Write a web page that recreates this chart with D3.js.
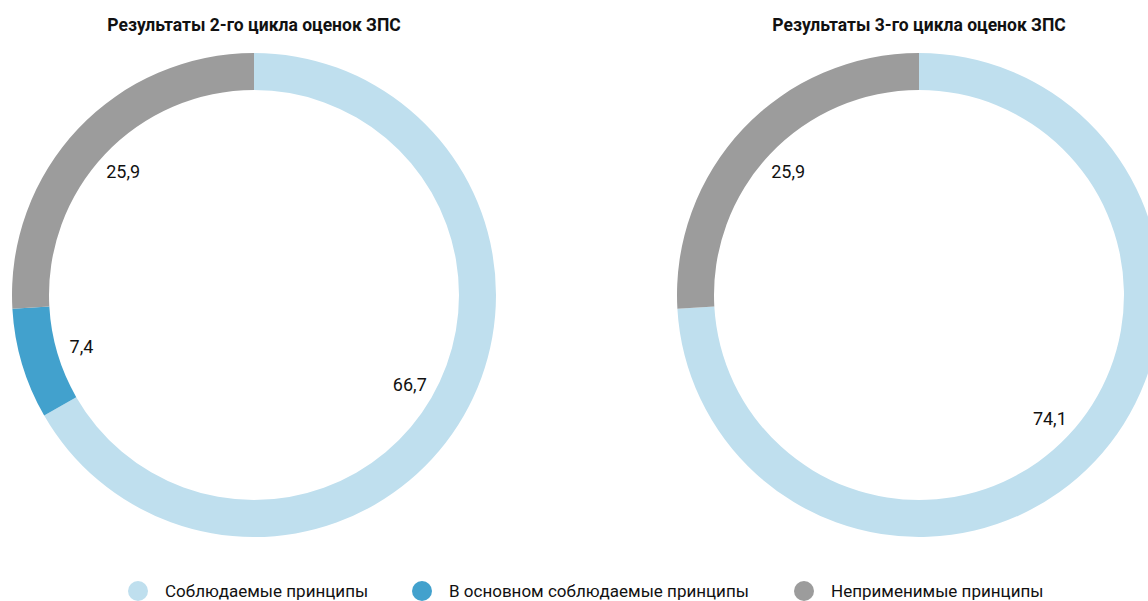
<!DOCTYPE html>
<html>
<head>
<meta charset="utf-8">
<script src="https://cdn.jsdelivr.net/npm/d3@7"></script>
<style>
  body { margin: 0; background: #fff; }
  text { font-family: Roboto, "Noto Sans", sans-serif; }
</style>
</head>
<body>
<script>
var width = 1148;
var height = 601;

// data
var categories = ["Соблюдаемые принципы", "В основном соблюдаемые принципы", "Неприменимые принципы"];
var colors = ["#bfdfee", "#42a1cd", "#9c9c9c"];
var titles = ["Результаты 2-го цикла оценок ЗПС", "Результаты 3-го цикла оценок ЗПС"];
var cycle2 = [66.7, 7.4, 25.9];
var cycle3 = [74.1, 0, 25.9];

var svg = d3.select("body")
			.append("svg")
			.attr("width", width)
			.attr("height", height);

var outerR = 242;
var innerR = 205;
var centers = [254, 919];
var cy = 295;

var pie = d3.pie().sort(null).value(function(d){ return d.value; });
var arc = d3.arc().innerRadius(innerR).outerRadius(outerR);
var labelArc = d3.arc().innerRadius(180).outerRadius(180);

function fmt(v){ return String(v).replace(".", ","); }

[cycle2, cycle3].forEach(function(series, k){
	var rows = series.map(function(v, i){ return {name: categories[i], value: v, color: colors[i]}; });

	var g = svg.append("g")
			   .attr("transform", "translate(" + centers[k] + "," + cy + ")");

	g.selectAll("path")
	 .data(pie(rows).filter(function(d){ return d.data.value > 0; }))
	 .enter()
	 	.append("path")
	 	.attr("d", arc)
	 	.attr("fill", function(d){ return d.data.color; });

	g.selectAll("text.lbl")
	 .data(pie(rows).filter(function(d){ return d.data.value > 0; }))
	 .enter()
	 	.append("text")
	 	.attr("class", "lbl")
	 	.attr("transform", function(d){ return "translate(" + labelArc.centroid(d) + ")"; })
	 	.attr("text-anchor", "middle")
	 	.attr("dy", ".35em")
	 	.attr("font-size", "18px")
	 	.attr("fill", "#111")
	 	.text(function(d){ return fmt(d.data.value); });

	svg.append("text")
	   .attr("x", centers[k])
	   .attr("y", 31)
	   .attr("text-anchor", "middle")
	   .attr("font-size", "17.5px")
	   .attr("font-weight", "bold")
	   .attr("fill", "#111")
	   .text(titles[k]);
});

// legend
var legendX = [138, 422, 804];
var legend = svg.selectAll("g.legend")
				.data(categories)
				.enter()
					.append("g")
					.attr("class", "legend")
					.attr("transform", function(d, i){ return "translate(" + legendX[i] + ",591)"; });

legend.append("circle")
	  .attr("r", 10)
	  .attr("fill", function(d, i){ return colors[i]; });

legend.append("text")
	  .attr("x", 27)
	  .attr("dy", ".35em")
	  .attr("font-size", "17px")
	  .attr("fill", "#111")
	  .text(function(d){ return d; });
</script>
</body>
</html>
